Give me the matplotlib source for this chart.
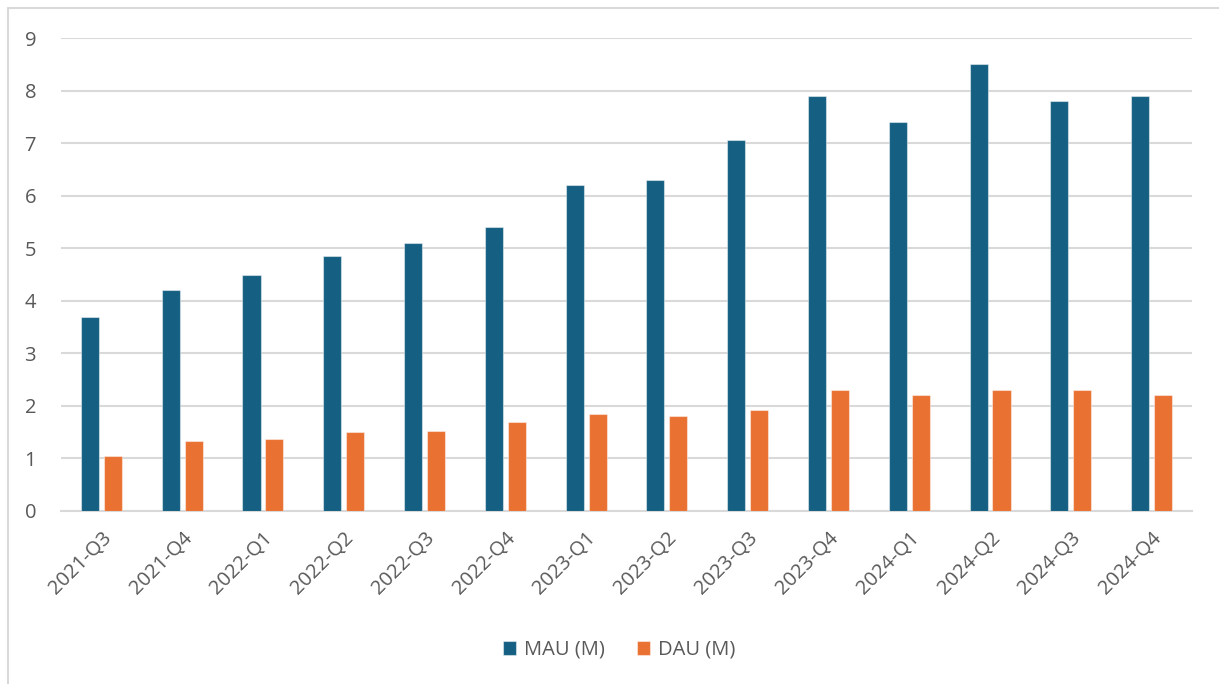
import matplotlib
matplotlib.use("Agg")
import matplotlib.pyplot as plt
import numpy as np
from matplotlib.patches import Rectangle

# Dades del gràfic (llegides de la imatge)
quarters = ["2021-Q3", "2021-Q4", "2022-Q1", "2022-Q2", "2022-Q3", "2022-Q4", "2023-Q1",
            "2023-Q2", "2023-Q3", "2023-Q4", "2024-Q1", "2024-Q2", "2024-Q3", "2024-Q4"]
mau = [3.7, 4.2, 4.5, 4.85, 5.1, 5.4, 6.2, 6.3, 7.05, 7.9, 7.4, 8.5, 7.8, 7.9]
dau = [1.05, 1.33, 1.37, 1.5, 1.53, 1.7, 1.84, 1.81, 1.93, 2.31, 2.2, 2.3, 2.3, 2.2]
series_names = ["MAU (M)", "DAU (M)"]

plt.rcParams["font.family"] = ["Open Sans", "DejaVu Sans"]
TEXT = "#595959"
GRID = "#d9d9d9"

fig = plt.figure(figsize=(12.19, 6.84), dpi=100)
ax = fig.add_axes([61 / 1219, 1 - 511 / 684, (1192 - 61) / 1219, (511 - 38) / 684])

# marc gris clar de tot el gràfic (només es veuen vora superior i esquerra)
fig.patches.append(Rectangle((8 / 1219, -0.05), 1.1, 1 - 8 / 684 + 0.05,
                             transform=fig.transFigure, fill=False,
                             edgecolor=GRID, linewidth=1.5))

x = np.arange(len(quarters))
w = 0.223
off = 0.142
edge = (1, 1, 1, 0.45)
ax.bar(x - off, mau, w, color="#156082", edgecolor=edge, linewidth=0.8,
       label=series_names[0], zorder=3)
ax.bar(x + off, dau, w, color="#E97132", edgecolor=edge, linewidth=0.8,
       label=series_names[1], zorder=3)

ax.set_xlim(-0.5, len(quarters) - 0.5)
ax.set_ylim(0, 9)
ax.set_yticks(range(0, 10))
ax.grid(axis="y", color=GRID, linewidth=1.5, zorder=0)
for s in ["top", "right", "left"]:
    ax.spines[s].set_visible(False)
ax.spines["bottom"].set_color(GRID)
ax.spines["bottom"].set_linewidth(1.5)
ax.tick_params(axis="both", length=0, colors=TEXT, labelsize=14.5)
ax.tick_params(axis="y", pad=18)
ax.tick_params(axis="x", pad=12)
ax.set_xticks(x)
ax.set_xticklabels(quarters, rotation=45, ha="right", rotation_mode="anchor")

leg = fig.legend(loc="center", bbox_to_anchor=(619 / 1219, 1 - 650 / 684), ncol=2,
                 frameon=False, fontsize=14.5, handlelength=0.65, handleheight=0.65,
                 handletextpad=0.4, columnspacing=1.6)
for t in leg.get_texts():
    t.set_color(TEXT)

fig.savefig("out.png", dpi=100)
